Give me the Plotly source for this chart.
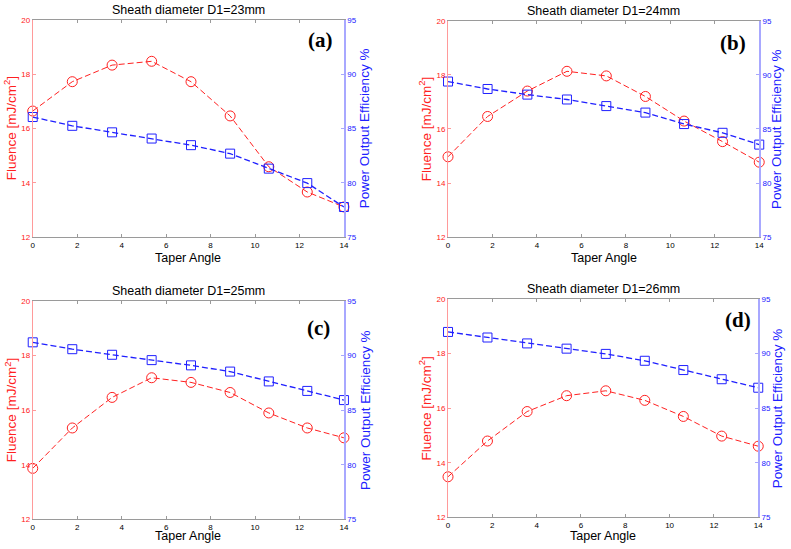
import plotly.graph_objects as go

taper_angle = [0, 1.78, 3.57, 5.35, 7.12, 8.88, 10.62, 12.35, 14.0]

fluence_a = [16.64, 17.72, 18.33, 18.47, 17.72, 16.46, 14.59, 13.66, 13.11]
power_a = [86.05, 85.24, 84.64, 84.07, 83.46, 82.68, 81.30, 79.97, 77.77]

fluence_b = [14.97, 16.46, 17.40, 18.13, 17.96, 17.20, 16.29, 15.53, 14.77]
power_b = [89.38, 88.69, 88.17, 87.72, 87.11, 86.51, 85.45, 84.64, 83.55]

fluence_c = [13.87, 15.35, 16.47, 17.19, 17.02, 16.65, 15.90, 15.35, 14.99]
power_c = [91.22, 90.59, 90.08, 89.59, 89.11, 88.54, 87.64, 86.77, 85.93]

fluence_d = [13.49, 14.80, 15.88, 16.46, 16.64, 16.29, 15.70, 14.98, 14.61]
power_d = [91.99, 91.48, 90.94, 90.46, 89.98, 89.35, 88.50, 87.66, 86.88]

titles = ["Sheath diameter D1=23mm", "Sheath diameter D1=24mm",
          "Sheath diameter D1=25mm", "Sheath diameter D1=26mm"]
panel_labels = ["(a)", "(b)", "(c)", "(d)"]
x_ticks = [0, 2, 4, 6, 8, 10, 12, 14]
left_ticks = [12, 14, 16, 18, 20]
right_ticks = [75, 80, 85, 90, 95]

W, H = 791, 549
# plot-area pixel boxes: left, right, top, bottom
boxes = [(31, 345, 16, 237), (450, 764, 17, 237),
         (31, 345, 302, 524), (450, 763, 300, 522)]
label_pos = [(321, 37), (738, 40), (319, 329), (743, 321)]
xtitle_y = [258, 258, 549, 549]
xtitle_anchor = ["middle", "middle", "bottom", "bottom"]
ltitle_x = [9, 427, 9, 427]
rtitle_x = [366, 782, 366, 782]

fluences = [fluence_a, fluence_b, fluence_c, fluence_d]
powers = [power_a, power_b, power_c, power_d]

RED = "#ff2020"
BLUE = "#2020ff"
RED_AX = "#ff9a9a"
BLUE_AX = "#a8a8ff"
GREY = "#9a9a9a"

fig = go.Figure()
layout = dict(width=W, height=H, margin=dict(l=0, r=0, t=0, b=0),
              paper_bgcolor="white", plot_bgcolor="white", showlegend=False,
              font=dict(family="Arial, Liberation Sans, sans-serif"))
annotations = []

for i in range(4):
    l, r, t, b = boxes[i]
    xd = [l / W, r / W]
    yd = [1 - b / H, 1 - t / H]
    xn = f"x{i+1}" if i else "x"
    yl_n = f"y{2*i+1}" if i else "y"
    yr_n = f"y{2*i+2}"
    xkey = f"xaxis{i+1}" if i else "xaxis"
    ylkey = f"yaxis{2*i+1}" if i else "yaxis"
    yrkey = f"yaxis{2*i+2}"

    layout[xkey] = dict(domain=xd, anchor=yl_n, range=[0, 14], tickvals=x_ticks,
                        showgrid=False, zeroline=False, showline=True, linecolor=GREY,
                        linewidth=1, mirror="ticks", ticks="inside", ticklen=3,
                        tickcolor=GREY, tickfont=dict(size=8, color="black"))
    layout[ylkey] = dict(domain=yd, anchor=xn, range=[12, 20], tickvals=left_ticks,
                         showgrid=False, zeroline=False, showline=True, linecolor=RED_AX,
                         linewidth=1, ticks="inside", ticklen=3, tickcolor=RED_AX,
                         tickfont=dict(size=8, color=RED))
    layout[yrkey] = dict(domain=yd, anchor=xn, overlaying=yl_n, side="right",
                         range=[75, 95], tickvals=right_ticks,
                         showgrid=False, zeroline=False, showline=True, linecolor=BLUE_AX,
                         linewidth=1.5, ticks="inside", ticklen=3, tickcolor=BLUE_AX,
                         tickfont=dict(size=8, color=BLUE))

    fig.add_trace(go.Scatter(x=taper_angle, y=fluences[i], xaxis=xn, yaxis=yl_n,
                             mode="lines+markers",
                             line=dict(color=RED, width=1, dash="6px,3px"),
                             marker=dict(symbol="circle-open", size=10, color=RED,
                                         line=dict(width=1, color=RED)),
                             cliponaxis=False))
    fig.add_trace(go.Scatter(x=taper_angle, y=powers[i], xaxis=xn, yaxis=yr_n,
                             mode="lines+markers",
                             line=dict(color=BLUE, width=1.3, dash="6px,3px"),
                             marker=dict(symbol="square-open", size=9, color=BLUE,
                                         line=dict(width=1, color=BLUE)),
                             cliponaxis=False))

    cx = (l + r) / 2
    cy = (t + b) / 2
    annotations.append(dict(text=titles[i], x=cx / W, y=1 - (t - 10) / H,
                            xref="paper", yref="paper", showarrow=False,
                            xanchor="center", yanchor="middle",
                            font=dict(size=12.5, color="black")))
    annotations.append(dict(text="Taper Angle", x=cx / W, y=1 - xtitle_y[i] / H,
                            xref="paper", yref="paper", showarrow=False,
                            xanchor="center", yanchor=xtitle_anchor[i],
                            borderpad=0,
                            font=dict(size=12.5, color="black")))
    annotations.append(dict(text="Fluence [mJ/cm<sup>2</sup>]", x=ltitle_x[i] / W,
                            y=1 - cy / H, xref="paper", yref="paper",
                            showarrow=False, textangle=-90, xanchor="center",
                            yanchor="middle", font=dict(size=13.5, color=RED)))
    annotations.append(dict(text="Power Output Efficiency %", x=rtitle_x[i] / W,
                            y=1 - cy / H, xref="paper", yref="paper",
                            showarrow=False, textangle=-90, xanchor="center",
                            yanchor="middle", font=dict(size=13.5, color=BLUE)))
    lx, ly = label_pos[i]
    annotations.append(dict(text=f"<b>{panel_labels[i]}</b>", x=lx / W, y=1 - ly / H,
                            xref="paper", yref="paper", showarrow=False,
                            xanchor="center", yanchor="middle",
                            font=dict(size=21, color="black",
                                      family="Liberation Serif, Times New Roman, serif")))

layout["annotations"] = annotations
fig.update_layout(**layout)
fig.write_html("out.html", config={"displayModeBar": False},
               post_script="document.body.style.margin='0';document.body.style.overflow='hidden';")
